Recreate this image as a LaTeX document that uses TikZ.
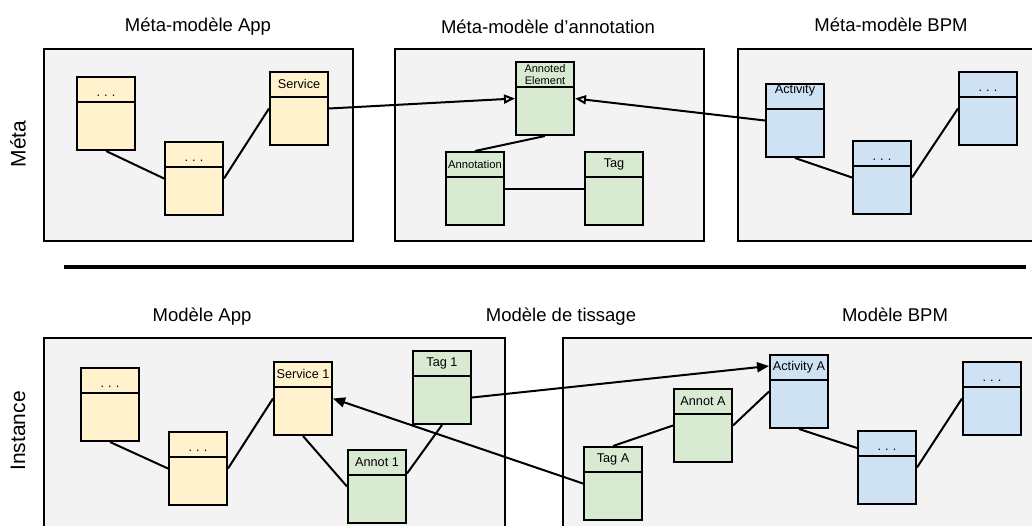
\documentclass[tikz,border=0pt]{standalone}
\usepackage{fontspec}
\setmainfont{Liberation Sans}
\usetikzlibrary{arrows.meta,calc,positioning}
\usepackage{xcolor}
\definecolor{panelgray}{HTML}{F3F3F3}
\definecolor{appyellow}{HTML}{FFF2CC}
\definecolor{anngreen}{HTML}{D9EAD3}
\definecolor{bpmblue}{HTML}{CFE2F3}
\newcommand{\etc}{.\kern4pt.\kern4pt.}

\begin{document}
\begin{tikzpicture}[x=1pt, y=-1pt,
  panel/.style={draw, fill=panelgray, line width=1.8pt, anchor=north west, inner sep=0pt},
  title/.style={font=\fontsize{18.5}{21}\selectfont},
  side/.style={font=\fontsize{21}{24}\selectfont, rotate=90},
  cls/.style={draw, line width=2pt, anchor=north west, inner sep=0pt,
    minimum width=58pt, minimum height=73pt,
    path picture={\draw[line width=2pt] ([yshift=-24.5pt]path picture bounding box.north west)
      -- ([yshift=-24.5pt]path picture bounding box.north east);}},
  hdr/.style={anchor=center, yshift=24.2pt, inner sep=0pt, font=\fontsize{12.7}{14}\selectfont},
  dots/.style={hdr, yshift=-6.2pt},
  app/.style={cls, fill=appyellow},
  ann/.style={cls, fill=anngreen},
  bpm/.style={cls, fill=bpmblue},
  link/.style={line width=2pt},
  gen/.style={line width=2pt, -{Triangle[open, length=11pt, width=9pt]}},
  ref/.style={line width=2pt, -{Triangle[length=12pt, width=10pt]}}]
  \useasboundingbox (0,0) rectangle (1032,525);
  \clip (0,0) rectangle (1032,525);

  \node[side] (meta) at (18,144) {Méta};
  \node[side] (inst) at (18,431) {Instance};

  \node[panel, minimum width=309pt, minimum height=192pt] (mapp) at (43,48) {};
  \node[panel, minimum width=309pt, minimum height=192pt] (mann) at (394,48) {};
  \node[panel, minimum width=320pt, minimum height=192pt] (mbpm) at (737,48) {};
  \node[title] (tmapp) at (198,27) {Méta-modèle App};
  \node[title] (tmann) at (548,27) {Méta-modèle d’annotation};
  \node[title] (tmbpm) at (891,25) {Méta-modèle BPM};

  \node[app, label={[dots]center:\etc}] (ma1) at (76,76) {};
  \node[app, label={[dots]center:\etc}] (ma2) at (164,141) {};
  \node[app, label={[hdr]center:Service}] (svc) at (269,71) {};
  \node[ann, label={[hdr, yshift=-0.5pt, align=center, font=\fontsize{11}{12.5}\selectfont]center:Annoted\\Element}] (annel) at (515,61) {};
  \node[ann, label={[hdr, font=\fontsize{11.2}{13}\selectfont]center:Annotation}] (annot) at (445,151) {};
  \node[ann, label={[hdr]center:Tag}] (tag) at (584,151) {};
  \node[bpm, label={[hdr, yshift=6pt]center:Activity}] (act) at (765,83) {};
  \node[bpm, label={[dots]center:\etc}] (mb2) at (852,140) {};
  \node[bpm, label={[dots]center:\etc}] (mb3) at (958,71) {};

  \draw[link] (ma1.south) -- (ma2.west);
  \draw[link] (ma2.east) -- (svc.west);
  \draw[link] (annel.south) -- (annot.north);
  \draw[link] (annot.east) -- (tag.west);
  \draw[link] (act.south) -- (mb2.west);
  \draw[link] (mb2.east) -- (mb3.west);
  \draw[gen] (svc.east) -- (annel.west);
  \draw[gen] (act.west) -- (annel.east);

  \draw[line width=4pt] (64,266.5) coordinate (sepl) -- (1026,266.5) coordinate (sepr);

  \node[panel, minimum width=461pt, minimum height=220pt] (iapp) at (43,337) {};
  \node[panel, minimum width=500pt, minimum height=220pt] (ibpm) at (562,337) {};
  \node[title] (tiapp) at (202,317) {Modèle App};
  \node[title] (tweave) at (561,317) {Modèle de tissage};
  \node[title] (tibpm) at (895,315) {Modèle BPM};

  \node[app, label={[dots]center:\etc}] (ia1) at (80,367) {};
  \node[app, label={[dots]center:\etc}] (ia2) at (168,431) {};
  \node[app, label={[hdr]center:Service 1}] (svc1) at (273,361) {};
  \node[ann, label={[hdr]center:Tag 1}] (tag1) at (412,350) {};
  \node[ann, label={[hdr]center:Annot 1}] (annot1) at (347,449) {};
  \node[ann, label={[hdr]center:Tag A}] (taga) at (583,446) {};
  \node[ann, label={[hdr]center:Annot A}] (annota) at (673,388) {};
  \node[bpm, label={[hdr]center:Activity A}] (acta) at (769,354) {};
  \node[bpm, label={[dots]center:\etc}] (ib2) at (857,430) {};
  \node[bpm, label={[dots]center:\etc}] (ib3) at (962,361) {};

  \draw[link] (ia1.south) -- (ia2.west);
  \draw[link] (ia2.east) -- (svc1.west);
  \draw[link] (svc1.south) -- (annot1.west);
  \draw[link] ([yshift=-24.5pt]annot1.north east) -- (tag1.south);
  \draw[link] (taga.north) -- (annota.west);
  \draw[link] (annota.east) -- (acta.west);
  \draw[link] (acta.south) -- ([yshift=-18pt]ib2.north west);
  \draw[link] (ib2.east) -- (ib3.west);
  \draw[ref] (taga.west) -- (svc1.east);
  \draw[ref] ([yshift=-10pt]tag1.east) -- ([yshift=-12pt]acta.north west);
\end{tikzpicture}
\end{document}
